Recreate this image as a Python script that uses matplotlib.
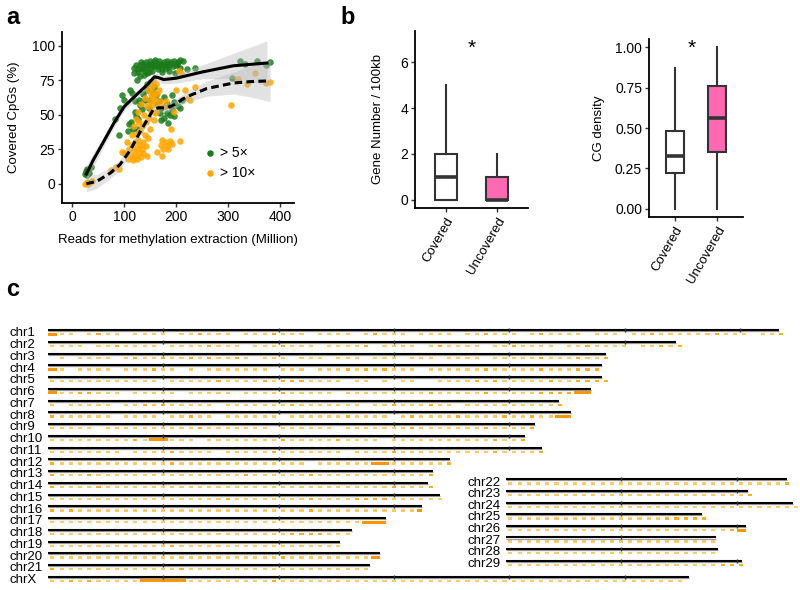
import numpy as np
import matplotlib
matplotlib.use("Agg")
import matplotlib.pyplot as plt

plt.rcParams['font.family'] = ['Liberation Sans', 'DejaVu Sans']

# ---------------- panel a: coverage vs reads ----------------
green_x = [25, 27, 29, 30, 32, 35, 28,
           83, 89, 91, 95, 100, 108, 110, 111, 113, 115, 117, 118, 118, 120, 121, 122, 124, 123, 124,
           126, 126, 127, 129, 130, 131, 131, 133, 134, 134, 136, 137, 137, 138, 139, 140, 141, 143,
           143, 144, 144, 146, 147, 147, 149, 150, 150, 150, 152, 154, 155, 156, 157, 157, 158, 160,
           161, 162, 163, 163, 165, 166, 167, 168, 168, 170, 170, 171, 172, 173, 175, 176, 177, 177,
           179, 180, 182, 182, 183, 183, 185, 185, 187, 188, 188, 190, 191, 192, 193, 195, 195, 196,
           197, 200, 201, 203, 204, 207, 208, 208, 211, 214, 220, 236, 307, 323, 333, 355, 374, 380]
green_y = [7, 9, 6, 10, 8, 12, 11,
           47, 35, 55, 64, 61, 38, 43, 68, 45, 66, 40, 84, 80, 52, 60, 86, 75, 49, 40,
           83, 47, 81, 61, 78, 86, 57, 88, 83, 54, 84, 87, 65, 79, 82, 61, 88, 85,
           72, 68, 80, 86, 81, 55, 84, 89, 61, 74, 87, 82, 86, 66, 85, 70, 88, 90,
           64, 87, 85, 58, 83, 60, 89, 87, 51, 86, 46, 55, 83, 81, 86, 48, 88, 63,
           56, 84, 89, 51, 86, 58, 85, 44, 82, 87, 50, 88, 64, 54, 85, 89, 49, 59,
           80, 86, 87, 56, 88, 84, 90, 55, 61, 89, 83, 84, 77, 89, 87, 89, 86, 88]

orange_x = [25, 28, 31, 34, 37,
            75, 85, 89, 95, 100, 105, 108, 110, 112, 114, 115, 117, 118, 119, 120, 121, 122, 123,
            124, 125, 126, 127, 128, 129, 130, 131, 132, 133, 134, 135, 136, 137, 138, 139, 140,
            141, 142, 143, 144, 145, 146, 147, 148, 149, 150, 151, 152, 153, 154, 155, 156, 157,
            158, 159, 160, 161, 162, 163, 164, 165, 166, 168, 170, 172, 173, 175, 176, 178, 180,
            182, 185, 188, 190, 192, 195, 200, 205, 208, 210, 217, 222, 227, 236, 306, 320, 336,
            352, 374, 381]
orange_y = [0, 1, 0, 1, 2,
            10, 12, 11, 23, 22, 30, 18, 25, 20, 35, 28, 17, 42, 24, 30, 20, 47, 36,
            26, 18, 52, 32, 22, 45, 28, 38, 19, 58, 25, 42, 30, 22, 50, 35, 62,
            27, 45, 20, 56, 33, 68, 48, 72, 60, 40, 65, 53, 70, 57, 62, 75, 46,
            66, 51, 60, 72, 52, 23, 65, 56, 68, 60, 28, 32, 20, 25, 56, 30, 60,
            27, 25, 31, 40, 29, 52, 68, 82, 31, 80, 68, 62, 61, 70, 57, 76, 72,
            80, 73, 74]

# smoothed fits with ribbon half-widths
fit5_x = [27, 40, 55, 80, 100, 125, 145, 158, 165, 176, 200, 250, 310, 375]
fit5_y = [7, 17, 27, 44, 56, 65, 72, 77.5, 77, 75.5, 76.5, 81, 85.5, 87.5]
fit5_se = [6, 5, 4, 3.5, 3, 3, 3, 3, 3, 3, 3.5, 5, 9, 16]
fit10_x = [27, 47, 73, 92, 112, 131, 150, 156, 166, 182, 195, 220, 259, 310, 342, 381]
fit10_y = [0, 1.7, 7.7, 14, 24.6, 38, 50, 54, 55, 55, 57, 63, 69, 73, 74, 74.6]
fit10_se = [6, 5, 4, 3.5, 3, 3, 3, 3, 3, 3, 3, 4, 5.5, 8, 11, 15]

# ---------------- panel b: box plots ----------------
box_groups = ['Covered', 'Uncovered']
box_colors = ['white', '#FF69B4']
gene_q1 = [0, 0]
gene_med = [1, 0]
gene_q3 = [2, 1]
gene_lo = [0, 0]
gene_hi = [5, 2]
cg_q1 = [0.22, 0.35]
cg_med = [0.33, 0.56]
cg_q3 = [0.48, 0.76]
cg_lo = [0.0, 0.0]
cg_hi = [0.87, 1.0]

# ---------------- panel c: covered regions per chromosome ----------------
chrom_left = ['chr1', 'chr2', 'chr3', 'chr4', 'chr5', 'chr6', 'chr7', 'chr8', 'chr9', 'chr10', 'chr11',
              'chr12', 'chr13', 'chr14', 'chr15', 'chr16', 'chr17', 'chr18', 'chr19', 'chr20', 'chr21', 'chrX']
len_left = [158.5, 136.2, 121.0, 120.0, 120.1, 117.8, 110.7, 113.3, 105.5, 103.3, 107.0,
            87.2, 83.5, 82.4, 85.0, 81.0, 73.2, 65.8, 63.4, 72.0, 69.9, 139.0]
chrom_right = ['chr22', 'chr23', 'chr24', 'chr25', 'chr26', 'chr27', 'chr28', 'chr29']
len_right = [61.0, 52.5, 62.3, 42.4, 52.0, 45.6, 45.9, 51.1]

# coverage level per 2 Mb bin (0 none, 1 light, 2 medium, 3 strong)
cov_left = [
    "3110121101 1110112111 0111211101 1110121110 1111011211 1012111101 1101121111 1121110112",
    "1111011211 1101111211 1011121110 1111201111 0121111011 2111101121 1110112122",
    "0101111012 1121121211 2101110111 0111011101 1101111011 1112111211 22",
    "3101111011 1211010111 1111011101 1121212111 0111111211 1112111222",
    "1111111111 1101111121 1112122211 1101101011 0011112121 1111211222 2",
    "3112211101 1111011111 0111121111 1011111111 1211111211 1112222333",
    "1011111011 2121111101 1111112111 1111011211 1211011111 111112",
    "2111111011 1101121101 1111101111 1121111012 1111211112 1121133",
    "1111101111 1111112111 1111011111 1011111112 1111111211 1123",
    "1111111112 1331110111 1111121111 1211110111 1111111121 12",
    "1111111101 1112111101 1111211111 1101111211 1111111121 1112",
    "2111111111 1112111111 1111111101 1111133111 1112",
    "2111211111 1111111111 1211111121 1111111111 12",
    "2111121111 1111111111 1111111111 1111111211 12",
    "1111111111 1111111112 1111111121 1112222111 1111",
    "2121111111 1111111111 1111111121 1111111111 33",
    "1111111111 1111111111 1111111111 1111333",
    "1111111111 1111111111 1111112222 111",
    "1111111111 1112111111 1111111111 11",
    "1111111111 1111111111 1111121111 111113",
    "2111111111 1111211111 1111111111 11111",
    "1121211111 3333311111 1111211111 1111111111 1111111111 1111111111 1111111110",
]
cov_right = [
    "1111111111 1111111111 1111111111 2",
    "1111111111 1111111111 1111112",
    "1111111111 1111111111 1111111111 11",
    "1111111111 1111111222 22",
    "1111111111 1111111111 111123",
    "1111111111 1111111111 111",
    "1111111111 1111111111 111",
    "1111111111 1111111111 111222",
]

PX_PER_MB = 4.613
BIN = 2.0
level_color = {1: '#FFCB66', 2: '#FFAE24', 3: '#FF9500'}

fig = plt.figure(figsize=(8, 5.9), dpi=100)

# panel c drawn on a full-figure canvas (x in Mb, y in pixels from top)
axc = fig.add_axes([0, 0, 1, 1])
axc.set_xlim(-48 / PX_PER_MB, (800 - 48) / PX_PER_MB)
axc.set_ylim(590, 0)
axc.axis('off')


def draw_chrom(name, length, pattern, x0, y, label_x):
    pattern = pattern.replace(' ', '')
    axc.hlines(y + 1.1, x0, x0 + length, color='#9a9a9a', lw=0.9)
    axc.hlines(y, x0, x0 + length, color='black', lw=1.5)
    ticks = np.arange(25, length, 25)
    axc.plot(x0 + ticks, [y] * len(ticks), ls='none', marker='|', ms=2.4, mew=1.0, color='#333333')
    yo = y + 4.2
    for lev in (1, 2, 3):
        spans = []
        for i, ch in enumerate(pattern):
            if int(ch) != lev or i * BIN >= length:
                continue
            if lev == 3:
                spans.append((x0 + i * BIN, min(BIN, length - i * BIN)))
            else:
                spans.append((x0 + i * BIN + 0.5, 0.9))
        if spans:
            h = 3.0 if lev == 3 else 2.4
            axc.broken_barh(spans, (yo - h / 2, h), facecolors=level_color[lev], lw=0)
    axc.text(label_x, y + 3.3, name, fontsize=9.5, ha='left', va='center')


for i, (name, length, pat) in enumerate(zip(chrom_left, len_left, cov_left)):
    draw_chrom(name, length, pat, 0, 330 + 11.75 * i, -39 / PX_PER_MB)

right_x0 = (506 - 48) / PX_PER_MB
for j, (name, length, pat) in enumerate(zip(chrom_right, len_right, cov_right)):
    draw_chrom(name, length, pat, right_x0, 479.3 + 11.63 * j, (468 - 48) / PX_PER_MB)


def style_axes(ax):
    for s in ('top', 'right'):
        ax.spines[s].set_visible(False)
    for s in ('left', 'bottom'):
        ax.spines[s].set_linewidth(1.3)
    ax.tick_params(direction='out', length=3, width=1, color='#333333', labelsize=10, pad=2)


# ---- panel a ----
axa = fig.add_axes([62 / 800, 1 - 203 / 590, 232 / 800, 171 / 590])
axa.scatter(green_x, green_y, s=22, color='#1B7A1B', alpha=0.85, lw=0, label='> 5×', zorder=2)
axa.scatter(orange_x, orange_y, s=22, color='#FFA500', alpha=0.85, lw=0, label='> 10×', zorder=2)
axa.fill_between(fit5_x, np.array(fit5_y) - np.array(fit5_se), np.array(fit5_y) + np.array(fit5_se),
                 color='#B8B8B8', alpha=0.4, lw=0, zorder=3)
axa.fill_between(fit10_x, np.array(fit10_y) - np.array(fit10_se), np.array(fit10_y) + np.array(fit10_se),
                 color='#B8B8B8', alpha=0.4, lw=0, zorder=3)
axa.plot(fit5_x, fit5_y, color='black', lw=2.2, zorder=4)
axa.plot(fit10_x, fit10_y, color='black', lw=2.2, dashes=(2.5, 1.4), zorder=4)
axa.set_xlim(-20, 427)
axa.set_ylim(-14, 110)
axa.set_xticks([0, 100, 200, 300, 400])
axa.set_yticks([0, 25, 50, 75, 100])
style_axes(axa)
axa.set_xlabel('Reads for methylation extraction (Million)', fontsize=9.5)
axa.set_ylabel('Covered CpGs (%)', fontsize=9.5)
axa.xaxis.set_label_coords(0.5, -0.18)
axa.yaxis.set_label_coords(-0.18, 0.5)
leg = axa.legend(frameon=False, loc='center left', bbox_to_anchor=(0.58, 0.235), fontsize=10,
                 handletextpad=0.1, labelspacing=0.45, borderaxespad=0, handlelength=1.2)
for h in leg.legend_handles:
    h.set_alpha(1)


def box_panel(ax, q1, med, q3, lo, hi):
    stats = [dict(label=g, q1=a, med=m, q3=b, whislo=l, whishi=u, fliers=[])
             for g, a, m, b, l, u in zip(box_groups, q1, med, q3, lo, hi)]
    bp = ax.bxp(stats, positions=[1, 2], widths=0.42, patch_artist=True, showcaps=False,
                boxprops=dict(edgecolor='#333333', lw=1.5),
                medianprops=dict(color='#333333', lw=2.6, solid_capstyle='butt'),
                whiskerprops=dict(color='#333333', lw=1.5))
    for patch, c in zip(bp['boxes'], box_colors):
        patch.set_facecolor(c)
    style_axes(ax)
    ax.set_xlim(0.4, 2.6)
    ax.tick_params(axis='x', labelsize=9.5)
    plt.setp(ax.get_xticklabels(), rotation=60, ha='right', rotation_mode='anchor')


# ---- panel b (gene number) ----
axb1 = fig.add_axes([415 / 800, 1 - 208 / 590, 113 / 800, 177 / 590])
box_panel(axb1, gene_q1, gene_med, gene_q3, gene_lo, gene_hi)
axb1.set_ylim(-0.35, 7.35)
axb1.set_yticks([0, 2, 4, 6])
axb1.set_ylabel('Gene Number / 100kb', fontsize=9.5)
axb1.yaxis.set_label_coords(-0.27, 0.5)
axb1.text(1.5, 6.6, '*', fontsize=15, ha='center', va='center')

# ---- panel b (CG density) ----
axb2 = fig.add_axes([649 / 800, 1 - 217 / 590, 94 / 800, 178 / 590])
box_panel(axb2, cg_q1, cg_med, cg_q3, cg_lo, cg_hi)
axb2.set_ylim(-0.05, 1.05)
axb2.set_yticks([0, 0.25, 0.5, 0.75, 1.0])
axb2.set_yticklabels(['0.00', '0.25', '0.50', '0.75', '1.00'])
axb2.set_ylabel('CG density', fontsize=9.5)
axb2.yaxis.set_label_coords(-0.47, 0.5)
axb2.text(1.4, 0.99, '*', fontsize=15, ha='center', va='center')

# panel letters
fig.text(6 / 800, 1 - 17 / 590, 'a', fontsize=17, fontweight='bold', va='center')
fig.text(340 / 800, 1 - 17 / 590, 'b', fontsize=17, fontweight='bold', va='center')
fig.text(6 / 800, 1 - 290 / 590, 'c', fontsize=17, fontweight='bold', va='center')

fig.savefig('out.png', dpi=100)
